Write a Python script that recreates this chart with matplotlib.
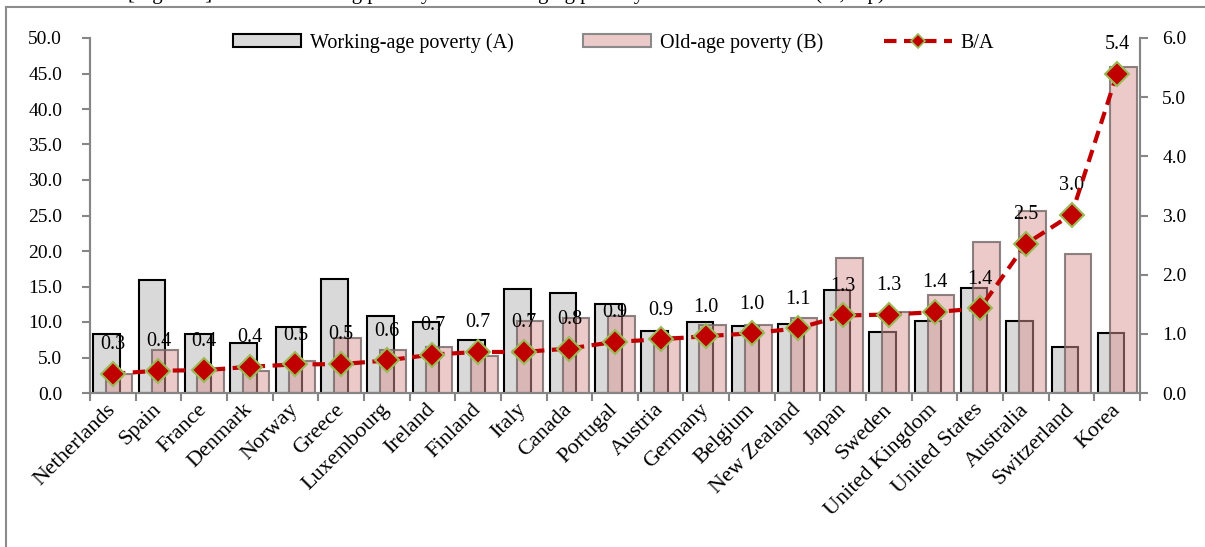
import numpy as np
import matplotlib.pyplot as plt
from matplotlib.lines import Line2D
from matplotlib.patches import Patch

plt.rcParams['font.family'] = ['Liberation Serif', 'DejaVu Serif']

countries = ['Netherlands', 'Spain', 'France', 'Denmark', 'Norway', 'Greece',
             'Luxembourg', 'Ireland', 'Finland', 'Italy', 'Canada', 'Portugal',
             'Austria', 'Germany', 'Belgium', 'New Zealand', 'Japan', 'Sweden',
             'United Kingdom', 'United States', 'Australia', 'Switzerland', 'Korea']
working_age = [8.3, 15.9, 8.3, 7.0, 9.3, 16.0, 10.9, 10.0, 7.5, 14.7, 14.1, 12.5,
               8.7, 10.0, 9.5, 9.7, 14.5, 8.6, 10.1, 14.8, 10.2, 6.5, 8.5]
old_age = [2.7, 6.0, 3.2, 3.1, 4.5, 7.8, 6.0, 6.5, 5.2, 10.2, 10.6, 10.8,
           7.9, 9.6, 9.6, 10.6, 19.0, 11.4, 13.8, 21.2, 25.7, 19.6, 45.9]
ratio = [b / a for a, b in zip(working_age, old_age)]

W, H = 1205, 547
fig = plt.figure(figsize=(W / 100, H / 100), dpi=100)

# outer chart frame (only its top and left edges fall inside the image)
frame_kw = dict(color='#8c8c8c', lw=1.5, transform=fig.transFigure)
fig.add_artist(Line2D([6 / W, 1.01], [1 - 7 / H, 1 - 7 / H], **frame_kw))
fig.add_artist(Line2D([6 / W, 6 / W], [-0.01, 1 - 7 / H], **frame_kw))
fig.text(128 / W, 1 + 1.5 / H, '[Figure 3] Relative working poverty and senior aging poverty '
         'in OECD countries (%, %p)', fontsize=15, va='baseline', ha='left')

ax = fig.add_axes([90 / W, 1 - 393 / H, 1050 / W, 355 / H])
x = np.arange(len(countries))
ax.bar(x - 0.14, working_age, width=0.58, color='#d9d9d9', edgecolor='black',
       linewidth=1.5, zorder=2)
ax.bar(x + 0.14, old_age, width=0.58, color=(0.85, 0.59, 0.58, 0.5),
       edgecolor=(0.45, 0.40, 0.40, 0.8), linewidth=1.5, zorder=3)

ax.set_xlim(-0.5, len(countries) - 0.5)
ax.set_ylim(0, 50)
ax.set_yticks(np.arange(0, 51, 5))
ax.set_yticklabels([f'{v:.1f}' for v in np.arange(0, 51, 5)])
ax.set_xticks(x)
ax.set_xticklabels(countries, rotation=45, ha='right', va='center',
                   rotation_mode='anchor', fontsize=16)
ax.set_xticks(np.arange(-0.5, len(countries)), minor=True)
ax.tick_params(axis='x', which='major', length=0, pad=10)
ax.tick_params(axis='x', which='minor', length=6, width=1.5, color='#868686')
ax.tick_params(axis='y', length=6, width=1.5, color='#868686', labelsize=14, pad=14)

ax2 = ax.twinx()
ax2.plot(x, ratio, color='#c00000', lw=3, ls=(0, (3, 1.8)), marker='D',
         markersize=12, markerfacecolor='#c00000', markeredgecolor='#9bbb59',
         markeredgewidth=1.5, zorder=4)
for xi, r in zip(x, ratio):
    ax2.annotate(f'{r:.1f}', (xi, r), xytext=(0, 21), textcoords='offset points',
                 ha='center', va='center', fontsize=14.5)
ax2.set_ylim(0, 6)
ax2.set_yticks(np.arange(0, 7, 1))
ax2.set_yticklabels([f'{v:.1f}' for v in range(7)])
ax2.tick_params(axis='y', length=6, width=1.5, color='#868686', labelsize=14, pad=10)

for a in (ax, ax2):
    for side in ('left', 'right', 'bottom'):
        a.spines[side].set_color('#868686')
        a.spines[side].set_linewidth(1.5)
    a.spines['top'].set_visible(False)

# one legend per entry so each sits at its own spot along the top
handles = [
    Patch(facecolor='#d9d9d9', edgecolor='black', linewidth=1.5),
    Patch(facecolor=(0.85, 0.59, 0.58, 0.5), edgecolor='#8a8a8a', linewidth=1.5),
    Line2D([], [], color='#c00000', lw=3, ls=(0, (3, 1.8)), marker='D', markersize=7,
           markerfacecolor='#c00000', markeredgecolor='#9bbb59', markeredgewidth=1.2),
]
labels = ['Working-age poverty (A)', 'Old-age poverty (B)', 'B/A']
legend_x = [233, 583, 884]
for h, lab, lx in zip(handles, labels, legend_x):
    fig.legend([h], [lab], loc='center left', bbox_to_anchor=(lx / W, 1 - 43 / H),
               frameon=False, fontsize=14.5, handlelength=3.4, handleheight=0.6,
               handletextpad=0.4, borderpad=0, borderaxespad=0)

fig.savefig('out.png', dpi=100)
